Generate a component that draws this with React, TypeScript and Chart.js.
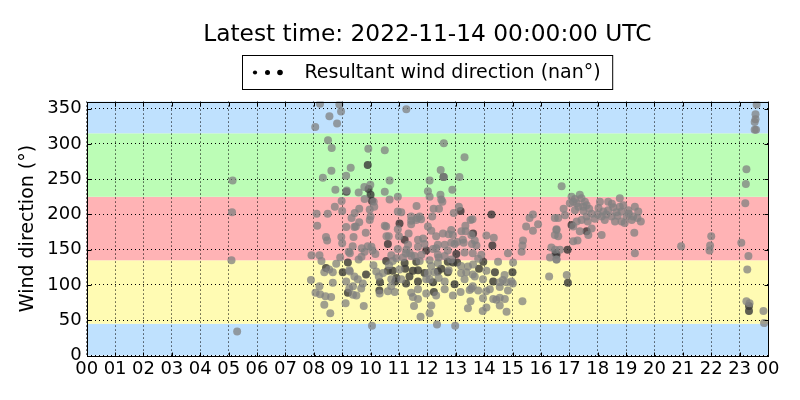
import React, { useEffect, useRef } from "react";
import { Chart, registerables } from "chart.js";

Chart.register(...registerables);

const chartTitle = "Latest time: 2022-11-14 00:00:00 UTC";
const seriesLabel = "Resultant wind direction (nan°)";
const axisTitle = "Wind direction (°)";

const hourLabels = [
  "00", "01", "02", "03", "04", "05", "06", "07", "08", "09", "10", "11", "12",
  "13", "14", "15", "16", "17", "18", "19", "20", "21", "22", "23", "00",
];
const directionTicks = [0, 50, 100, 150, 200, 250, 300, 350];
// compass sectors behind the points (N, E, S, W, N)
const sectorEdges = [0, 45, 135, 225, 315, 360];
const sectorColors = ["#bfe1fe", "#fffbb3", "#ffb3b5", "#bcfdb6", "#bfe1fe"];

// [hour of day, direction in degrees]
const earlyReadings = [[5.14, 248], [5.12, 203], [5.1, 135], [5.3, 34]];

const morningReadings = [
  [8.22, 357], [8.9, 356], [8.96, 346], [8.55, 339], [8.82, 329], [8.05, 324], [8.5, 305], [8.63, 294],
  [9.92, 293], [9.3, 266], [8.62, 262], [9.14, 255], [8.32, 252], [9.78, 239], [8.76, 235], [9.16, 234],
  [9.58, 231], [8.98, 219], [8.74, 211], [9.6, 208], [10.13, 211], [9.0, 205], [8.1, 201], [8.49, 201],
  [9.33, 195], [9.6, 189], [10.0, 197], [9.43, 182], [9.14, 182], [8.12, 184], [9.83, 174], [10.5, 184],
  [8.43, 168], [8.97, 168], [9.4, 168], [9.0, 159], [9.37, 155], [9.69, 152], [9.9, 155], [10.07, 149],
  [9.23, 147], [7.92, 142], [8.2, 142], [8.93, 139], [9.58, 136], [8.27, 134], [10.17, 144], [8.79, 130],
  [9.25, 121], [10.1, 128], [8.37, 118], [8.67, 118], [9.43, 112], [10.29, 112], [7.9, 107], [9.14, 105],
  [9.55, 108], [8.67, 103], [8.2, 98], [9.25, 95], [9.67, 95], [8.06, 89], [9.5, 85], [8.22, 87],
  [8.41, 84], [8.61, 83], [9.12, 74], [8.37, 72], [9.76, 70], [8.58, 60], [10.05, 42],
  [8.47, 163], [10.03, 154], [9.27, 145], [9.68, 140], [9.79, 147], [10.65, 128], [10.91, 138],
  [8.54, 122], [9.27, 119], [10.2, 119], [10.44, 117], [9.38, 98], [9.73, 102], [10.73, 98],
  [10.32, 88], [10.61, 91], [9.38, 86], [9.99, 242], [10.5, 232], [9.79, 222], [10.11, 218],
  [9.44, 202], [9.97, 207], [9.48, 183], [9.97, 192], [10.56, 169],
];

const middayReadings = [
  [11.26, 349], [12.58, 301], [13.31, 281], [12.47, 263], [12.58, 253], [13.13, 253], [10.67, 248],
  [12.08, 248], [12.88, 235], [10.5, 291], [12.02, 233], [10.96, 225], [10.67, 221], [12.49, 221],
  [11.62, 212], [12.22, 208], [12.41, 208], [10.96, 204], [11.08, 203], [11.43, 197], [11.64, 195],
  [11.78, 193], [12.17, 197], [12.93, 202], [13.52, 192], [11.43, 186], [12.02, 183], [13.34, 184],
  [10.55, 183], [10.96, 179], [12.14, 177], [10.64, 169], [11.0, 169], [11.34, 173], [12.31, 169],
  [12.75, 172], [13.2, 176], [13.55, 171], [11.67, 164], [12.84, 160], [13.05, 161], [13.28, 160],
  [11.32, 157], [11.9, 158], [12.37, 157], [13.57, 158], [10.96, 151], [11.26, 150], [11.38, 145],
  [12.2, 151], [12.72, 149], [13.31, 146], [10.73, 142], [11.14, 139], [11.55, 141], [12.4, 139],
  [12.61, 141], [12.84, 136], [10.78, 134], [11.73, 134], [12.14, 127], [13.19, 127], [11.02, 122],
  [12.25, 118], [12.75, 121], [13.37, 118], [13.6, 115], [10.73, 108], [11.08, 108], [11.96, 108],
  [12.4, 110], [13.31, 108], [10.85, 90], [11.43, 89], [11.67, 94], [11.96, 88], [12.61, 94],
  [13.17, 90], [12.9, 85], [11.67, 80], [12.31, 85], [11.53, 70], [12.14, 71], [11.76, 55],
  [12.34, 44], [12.98, 42], [11.24, 145], [11.67, 154], [12.31, 152], [12.61, 157], [12.96, 158],
  [11.43, 141], [11.79, 143], [12.37, 143], [13.6, 145], [13.9, 143], [12.08, 135], [12.37, 131],
  [13.43, 126], [12.02, 117], [13.19, 117], [12.08, 108], [12.61, 105], [13.6, 98], [11.49, 83],
  [13.49, 93], [12.08, 60], [13.43, 67], [12.46, 228], [12.53, 218], [12.08, 225], [13.11, 211],
  [11.73, 197], [11.43, 191], [11.61, 192], [12.55, 173], [12.84, 178], [13.35, 176], [11.85, 166],
  [12.9, 171], [13.25, 164],
];

const afternoonReadings = [
  [13.59, 193], [15.72, 200], [15.6, 195], [15.9, 186], [15.48, 183], [15.72, 177], [16.49, 195],
  [16.55, 179], [16.49, 171], [14.08, 170], [14.34, 167], [13.67, 163], [13.73, 156], [15.37, 163],
  [15.35, 156], [15.32, 147], [16.37, 153], [16.32, 139], [16.55, 136], [13.79, 137], [14.49, 133],
  [15.02, 132], [13.61, 129], [14.08, 120], [13.67, 112], [13.96, 108], [14.55, 104], [14.79, 104],
  [14.96, 105], [16.29, 112], [13.55, 95], [13.79, 92], [14.2, 94], [14.55, 97], [14.84, 92],
  [13.96, 81], [14.32, 80], [14.55, 82], [14.73, 80], [15.35, 77], [13.52, 77], [14.08, 68],
  [14.55, 71], [14.79, 62], [13.95, 63], [14.84, 145], [14.72, 114], [14.66, 107], [15.01, 102],
  [14.07, 91], [14.43, 79],
];

const eveningReadings = [
  [16.73, 240], [17.08, 225], [17.14, 218], [17.37, 228], [17.43, 223], [17.55, 218], [17.26, 216],
  [17.32, 211], [17.02, 216], [17.49, 211], [17.2, 206], [17.61, 213], [18.08, 218], [18.37, 218],
  [18.78, 223], [17.79, 201], [18.03, 209], [18.2, 204], [18.37, 206], [18.55, 210], [18.66, 203],
  [18.78, 211], [18.84, 204], [17.9, 194], [18.14, 197], [18.49, 197], [18.61, 190], [18.84, 190],
  [19.08, 206], [19.31, 211], [19.43, 204], [19.25, 197], [19.52, 190], [19.02, 197], [16.85, 199],
  [16.61, 195], [17.26, 190], [17.43, 192], [17.61, 197], [17.14, 183], [17.37, 176], [17.67, 171],
  [17.79, 180], [18.14, 171], [16.55, 178], [16.61, 169], [17.14, 162], [17.29, 163], [19.29, 174],
  [16.5, 150], [16.67, 150], [16.55, 136], [19.31, 145], [16.91, 114], [16.8, 208], [17.5, 205],
  [17.7, 208], [18.0, 200], [18.3, 200], [18.5, 215], [18.7, 198], [18.9, 213], [19.2, 192],
  [19.4, 195], [17.2, 222], [17.65, 190], [18.25, 192], [18.95, 188], [19.1, 201],
];

const lateReadings = [
  [20.94, 155], [22.0, 169], [21.96, 156], [21.94, 149], [23.06, 160], [23.2, 216], [23.22, 243],
  [23.24, 264], [23.31, 141], [23.27, 122], [23.24, 77], [23.35, 74], [23.53, 320], [23.58, 320],
  [23.53, 331], [23.56, 335], [23.56, 342], [23.6, 356], [23.84, 63], [23.86, 46],
];

// readings drawn in the darker grey
const darkerReadings = [
  [9.9, 270], [9.93, 236], [10.0, 228], [10.05, 219], [9.2, 132], [8.43, 124], [9.02, 118], [9.84, 115],
  [10.33, 104], [9.2, 89], [10.31, 92], [13.17, 205], [11.02, 187], [10.61, 158], [11.96, 149],
  [13.02, 144], [10.55, 134], [12.9, 132], [13.05, 132], [10.61, 120], [10.78, 120], [11.22, 123],
  [11.49, 120], [11.67, 121], [11.9, 117], [12.49, 123], [10.87, 105], [11.25, 102], [11.37, 112],
  [11.67, 105], [12.2, 104], [12.96, 101], [12.23, 90], [14.26, 200], [13.61, 173], [14.29, 156],
  [16.52, 145], [13.97, 133], [13.82, 123], [14.38, 118], [15.0, 118], [14.32, 105], [17.08, 185],
  [17.61, 176], [16.94, 150], [16.55, 143], [16.95, 103], [23.33, 70], [23.33, 63], [10.91, 110],
  [11.2, 131], [11.61, 133], [12.72, 133], [12.37, 119], [12.72, 118], [9.15, 232], [12.57, 253],
  [11.2, 164],
];

const toXY = (pts: number[][]) => pts.map(([x, y]) => ({ x, y }));

const FONT = "'DejaVu Sans', sans-serif";

const framePlugin = {
  id: "frame",
  beforeDraw(chart: any) {
    const { ctx, chartArea: a, scales } = chart;
    const y = scales.y;
    ctx.save();
    for (let i = 0; i < sectorEdges.length - 1; i++) {
      const top = y.getPixelForValue(sectorEdges[i + 1]);
      const bottom = y.getPixelForValue(sectorEdges[i]);
      ctx.fillStyle = sectorColors[i];
      ctx.fillRect(a.left, top, a.right - a.left, bottom - top);
    }
    ctx.restore();
  },
  afterDraw(chart: any) {
    const { ctx, chartArea: a, scales } = chart;
    const l = Math.round(a.left) + 0.5;
    const r = Math.round(a.right) + 0.5;
    const t = Math.round(a.top) + 0.5;
    const b = Math.round(a.bottom) + 0.5;
    ctx.save();
    ctx.strokeStyle = "#000";
    ctx.lineWidth = 1;
    ctx.beginPath();
    hourLabels.forEach((_, i) => {
      const px = Math.round(scales.x.getPixelForValue(i)) + 0.5;
      ctx.moveTo(px, b);
      ctx.lineTo(px, b - 4);
      ctx.moveTo(px, t);
      ctx.lineTo(px, t + 4);
    });
    directionTicks.forEach((v) => {
      const py = Math.round(scales.y.getPixelForValue(v)) + 0.5;
      ctx.moveTo(l, py);
      ctx.lineTo(l + 4, py);
      ctx.moveTo(r, py);
      ctx.lineTo(r - 4, py);
    });
    ctx.stroke();
    ctx.strokeRect(l, t, r - l, b - t);

    // legend box
    ctx.font = `19px ${FONT}`;
    const textW = ctx.measureText(seriesLabel).width;
    const boxW = 62 + textW + 12;
    const bx = Math.round((a.left + a.right) / 2 - boxW / 2) + 0.5;
    const by = 55.5;
    ctx.fillStyle = "#fff";
    ctx.fillRect(bx, by, boxW, 34);
    ctx.strokeRect(bx, by, boxW, 34);
    ctx.fillStyle = "#000";
    [[12.5, 2.1], [25, 2.5], [37.5, 2.8]].forEach(([dx, rad]) => {
      ctx.beginPath();
      ctx.arc(bx + dx, 72.5, rad, 0, Math.PI * 2);
      ctx.fill();
    });
    ctx.textBaseline = "alphabetic";
    ctx.fillText(seriesLabel, bx + 62, 78);
    ctx.restore();
  },
};

const WindDirectionChart: React.FC = () => {
  const canvasRef = useRef<HTMLCanvasElement>(null);

  useEffect(() => {
    let chart: Chart | null = null;
    if (canvasRef.current) {
      const lightReadings = [
        ...earlyReadings,
        ...morningReadings,
        ...middayReadings,
        ...afternoonReadings,
        ...eveningReadings,
        ...lateReadings,
      ];
      chart = new Chart(canvasRef.current, {
        type: "scatter",
        data: {
          datasets: [
            {
              label: seriesLabel,
              data: toXY(lightReadings),
              backgroundColor: "rgba(128,128,128,0.75)",
              borderWidth: 0,
              pointRadius: 4,
              pointHoverRadius: 4,
            },
            {
              label: seriesLabel,
              data: toXY(darkerReadings),
              backgroundColor: "rgba(55,55,55,0.8)",
              borderWidth: 0,
              pointRadius: 4,
              pointHoverRadius: 4,
            },
          ],
        },
        options: {
          responsive: true,
          maintainAspectRatio: false,
          animation: false,
          layout: { padding: { left: 0, right: 32, top: 0, bottom: 0 } },
          plugins: {
            legend: { display: false },
            tooltip: { enabled: false },
            title: {
              display: true,
              text: chartTitle,
              fullSize: false,
              color: "#000",
              font: { family: FONT, size: 23.3, weight: "normal" },
              padding: { top: 21, bottom: 52.6 },
            },
          },
          scales: {
            x: {
              type: "linear",
              min: 0,
              max: 24,
              afterFit: (s: any) => {
                s.height = 44.5;
              },
              afterBuildTicks: (s: any) => {
                s.ticks = hourLabels.map((_, i) => ({ value: i }));
              },
              ticks: {
                autoSkip: false,
                maxRotation: 0,
                padding: 3,
                color: "#000",
                font: { family: FONT, size: 18 },
                callback: (v: any) => hourLabels[v as number],
              },
              grid: { color: "#000", lineWidth: 1, drawTicks: false },
              border: { display: false, dash: [1, 3] },
            },
            y: {
              min: 0,
              max: 360,
              afterFit: (s: any) => {
                s.width = 86.7;
              },
              afterBuildTicks: (s: any) => {
                s.ticks = directionTicks.map((v) => ({ value: v }));
              },
              ticks: {
                padding: 5,
                color: "#000",
                font: { family: FONT, size: 18 },
              },
              grid: { color: "#000", lineWidth: 1, drawTicks: false },
              border: { display: false, dash: [1, 3] },
              title: {
                display: true,
                text: axisTitle,
                color: "#000",
                font: { family: FONT, size: 19 },
                padding: { top: 17, bottom: 0 },
              },
            },
          },
        },
        plugins: [framePlugin],
      });
    }
    return () => {
      if (chart) {
        chart.destroy();
      }
    };
  }, []);

  return (
    <div style={{ position: "fixed", left: 0, top: 0, width: 800, height: 400, background: "#fff" }}>
      <canvas ref={canvasRef} />
    </div>
  );
};

export default function App() {
  return <WindDirectionChart />;
}
